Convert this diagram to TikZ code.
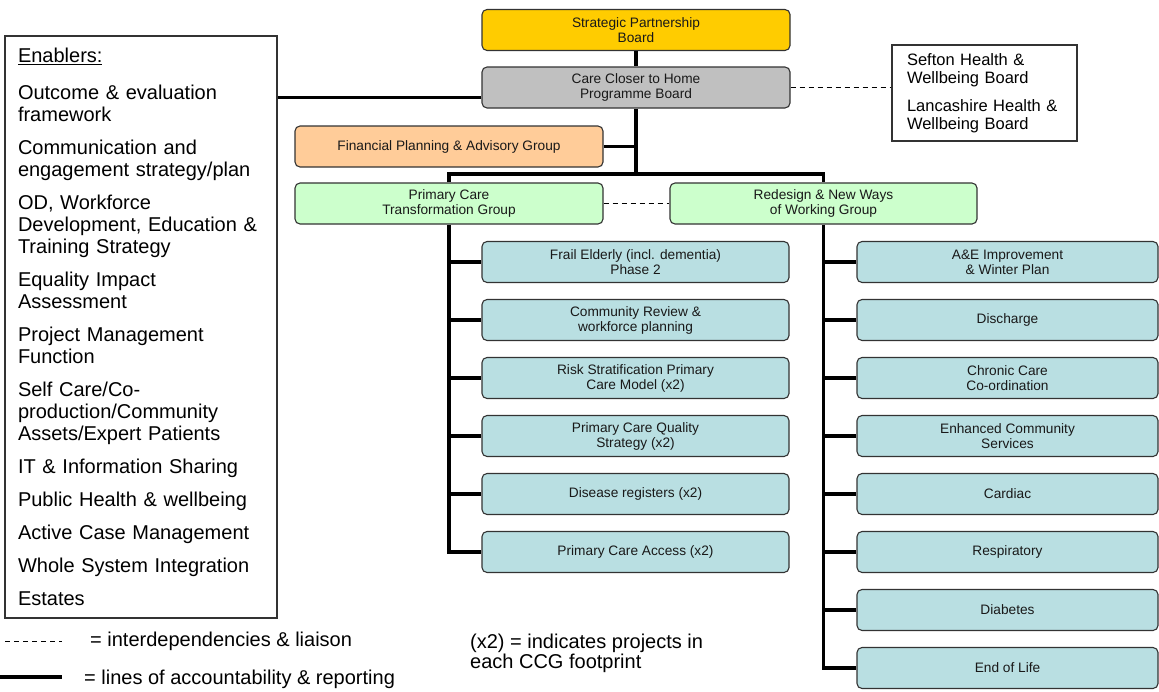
\documentclass[tikz,border=0pt]{standalone}
\usepackage{fontspec}
\setmainfont{Liberation Sans}
\usepackage{xcolor}
\usetikzlibrary{positioning}

\definecolor{boardgold}{HTML}{FFCC00}
\definecolor{boardgrey}{HTML}{C0C0C0}
\definecolor{finpeach}{HTML}{FFCC99}
\definecolor{groupgreen}{HTML}{CCFFCC}
\definecolor{projblue}{HTML}{B9DFE2}

\tikzset{
    box/.style={draw=black!80, line width=1.1pt, rounded corners=5pt,
        minimum width=308pt, minimum height=41pt, inner sep=2pt,
        align=center, text=black!90, font=\fontsize{13.7}{15}\selectfont},
    proj/.style={box, fill=projblue, minimum width=307pt},
    projr/.style={box, fill=projblue, minimum width=301pt},
    acc/.style={line width=3.6pt},
    liaison/.style={line width=0.9pt, dash pattern=on 5pt off 4pt},
    legend/.style={inner sep=0pt, anchor=west, align=left,
        font=\fontsize{20}{20}\selectfont}
}

\begin{document}
\begin{tikzpicture}[x=1pt, y=-1pt, node distance=58pt, on grid]
    \useasboundingbox (0,0) rectangle (1159,691);

    % boards and groups
    \node[box, fill=boardgold] (spb) at (636,30) {Strategic Partnership\\Board};
    \node[box, fill=boardgrey] (cch) at (636,87.5) {Care Closer to Home\\Programme Board};
    \node[box, fill=finpeach] (fpa) at (449,146.5) {Financial Planning \& Advisory Group};
    \node[box, fill=groupgreen] (pct) at (449,203.5) {Primary Care\\Transformation Group};
    \node[box, fill=groupgreen, minimum width=307pt] (rnw) at (823.5,203.5) {Redesign \& New Ways\\of Working Group};

    % primary care projects
    \node[proj] (pc1) at (635.5,262) {Frail Elderly (incl. dementia)\\Phase 2};
    \node[proj, below=of pc1] (pc2) {Community Review \&\\workforce planning};
    \node[proj, below=of pc2] (pc3) {Risk Stratification Primary\\Care Model (x2)};
    \node[proj, below=of pc3] (pc4) {Primary Care Quality\\Strategy (x2)};
    \node[proj, below=of pc4] (pc5) {Disease registers (x2)};
    \node[proj, below=of pc5] (pc6) {Primary Care Access (x2)};

    % redesign projects
    \node[projr] (ro1) at (1007.5,262) {A\&E Improvement\\\& Winter Plan};
    \node[projr, below=of ro1] (ro2) {Discharge};
    \node[projr, below=of ro2] (ro3) {Chronic Care\\Co-ordination};
    \node[projr, below=of ro3] (ro4) {Enhanced Community\\Services};
    \node[projr, below=of ro4] (ro5) {Cardiac};
    \node[projr, below=of ro5] (ro6) {Respiratory};
    \node[projr, below=of ro6] (ro7) {Diabetes};
    \node[projr, below=of ro7] (ro8) {End of Life};

    % enablers and health boards
    \node[draw=black!80, line width=1.1pt, text width=246pt, inner xsep=13pt,
        minimum height=582pt, align=left, font=\fontsize{20}{22}\selectfont]
        (enab) at (141,327) {\underline{Enablers:}\\[15pt]
        Outcome \& evaluation\\framework\\[11pt]
        Communication and\\engagement strategy/plan\\[11pt]
        OD, Workforce\\Development, Education \&\\Training Strategy\\[11pt]
        Equality Impact\\Assessment\\[11pt]
        Project Management\\Function\\[11pt]
        Self Care/Co-\\production/Community\\Assets/Expert Patients\\[11pt]
        IT \& Information Sharing\\[11pt]
        Public Health \& wellbeing\\[11pt]
        Active Case Management\\[11pt]
        Whole System Integration\\[11pt]
        Estates};
    \node[draw=black!80, line width=1.1pt, text width=155pt, inner xsep=15pt,
        minimum height=96pt, align=left, font=\fontsize{16.5}{18}\selectfont]
        (hwb) at (984.5,93) {Sefton Health \&\\Wellbeing Board\\[10pt]
        Lancashire Health \&\\Wellbeing Board};

    % lines of accountability
    \coordinate (hub) at (636,174);
    \draw[acc] (spb) -- (cch);
    \draw[acc] (cch.south) -- (hub);
    \draw[acc] (pct.north) |- (hub) -| (rnw.north);
    \draw[acc] (fpa.east) -- (fpa.east -| cch.south);
    \draw[acc] ([yshift=-10pt]cch.west) -- ([yshift=-10pt]cch.west -| enab.east);
    \draw[acc] (pct.south) |- (pc6.west);
    \foreach \p in {pc1,pc2,pc3,pc4,pc5}
        \draw[acc] (pct.south |- \p.west) -- (\p.west);
    \draw[acc] (rnw.south) |- (ro8.west);
    \foreach \p in {ro1,ro2,ro3,ro4,ro5,ro6,ro7}
        \draw[acc] (rnw.south |- \p.west) -- (\p.west);

    % liaison
    \draw[liaison] (cch.east) -- (cch.east -| hwb.west);
    \draw[liaison] (pct.east) -- (rnw.west);

    % key
    \coordinate (ld0) at (5,641);
    \coordinate (ld1) at (62,641);
    \coordinate (la0) at (0,677);
    \coordinate (la1) at (62,677);
    \draw[liaison] (ld0) -- (ld1);
    \draw[acc] (la0) -- (la1);
    \node[legend] (kd) at (90,641) {= interdependencies \& liaison};
    \node[legend] (ka) at (84,679) {= lines of accountability \& reporting};
    \node[legend] (kx) at (470,653) {(x2) = indicates projects in\\each CCG footprint};
\end{tikzpicture}
\end{document}
